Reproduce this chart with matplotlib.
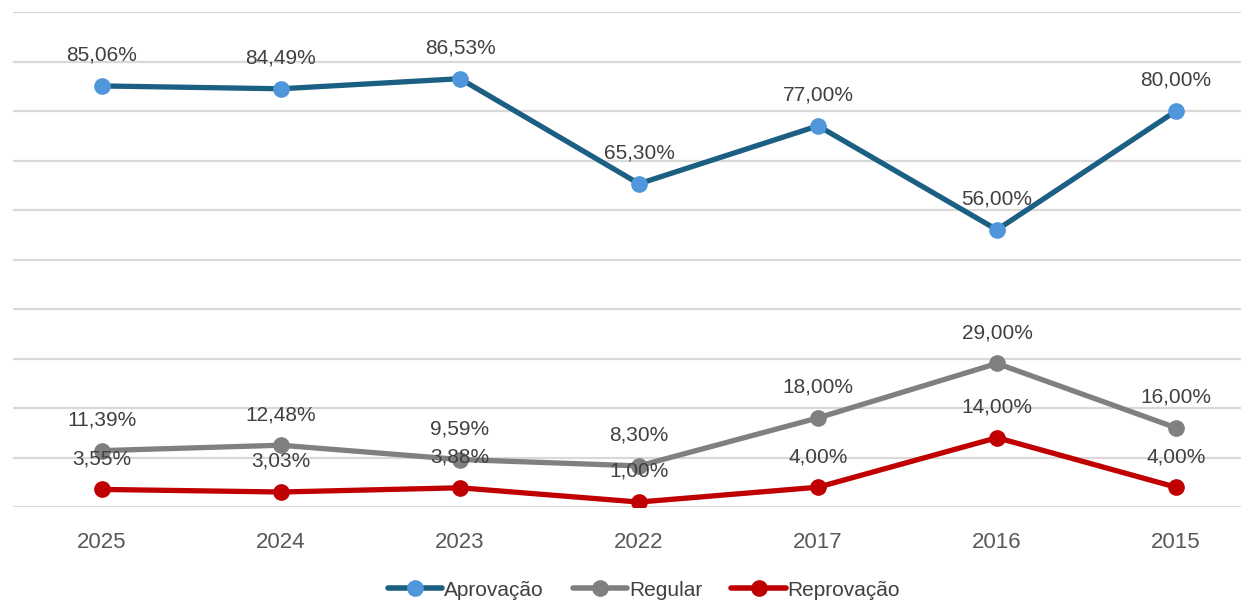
import matplotlib
matplotlib.use('Agg')
import matplotlib.pyplot as plt
from matplotlib.lines import Line2D

anos = ['2025', '2024', '2023', '2022', '2017', '2016', '2015']
aprovacao = [85.06, 84.49, 86.53, 65.30, 77.00, 56.00, 80.00]
regular = [11.39, 12.48, 9.59, 8.30, 18.00, 29.00, 16.00]
reprovacao = [3.55, 3.03, 3.88, 1.00, 4.00, 14.00, 4.00]

series = [
    ('Aprovação', aprovacao, '#1B5F83', '#4F97DA'),
    ('Regular', regular, '#808080', '#808080'),
    ('Reprovação', reprovacao, '#C00000', '#C00000'),
]

plt.rcParams['font.family'] = ['Liberation Sans', 'DejaVu Sans']

fig = plt.figure(figsize=(12.41, 6.02), dpi=100)
# plot area runs past the right edge like the cropped original
ax = fig.add_axes([12.5 / 1241, (602 - 507) / 602, 1253 / 1241, 495 / 602])

x = list(range(len(anos)))
for nome, vals, cor_linha, cor_marc in series:
    ax.plot(x, vals, color=cor_linha, lw=3.8, marker='o', ms=11,
            mfc=cor_marc, mec=cor_marc, solid_capstyle='round', zorder=3)
    for xi, v in zip(x, vals):
        txt = f'{v:.2f}'.replace('.', ',') + '%'
        ax.annotate(txt, (xi, v), xytext=(0, 22), textcoords='offset points',
                    ha='center', va='center', fontsize=15, color='#404040', zorder=4)

ax.set_xlim(-0.5, len(anos) - 0.5)
ax.set_ylim(0, 100)
ax.set_yticks(range(0, 101, 10))
ax.yaxis.grid(True, color='#D9D9D9', lw=1.6)
ax.set_axisbelow(True)
ax.tick_params(axis='y', left=False, labelleft=False)
ax.set_xticks(x)
ax.set_xticklabels(anos, fontsize=16, color='#595959')
ax.tick_params(axis='x', length=0, pad=18)
for s in ax.spines.values():
    s.set_visible(False)

handles = [Line2D([0], [0], color=cl, lw=4, marker='o', ms=11, mfc=cm, mec=cm,
                  solid_capstyle='round') for _, _, cl, cm in series]
fig.legend(handles, [s[0] for s in series], loc='center', bbox_to_anchor=(644 / 1241, 1 - 590 / 602),
           ncol=3, frameon=False, handlelength=2.6, handletextpad=0.1, columnspacing=1.4,
           prop={'family': ['Liberation Sans Narrow', 'Liberation Sans', 'DejaVu Sans'], 'size': 15},
           labelcolor='#404040')

fig.savefig('out.png', dpi=100)
